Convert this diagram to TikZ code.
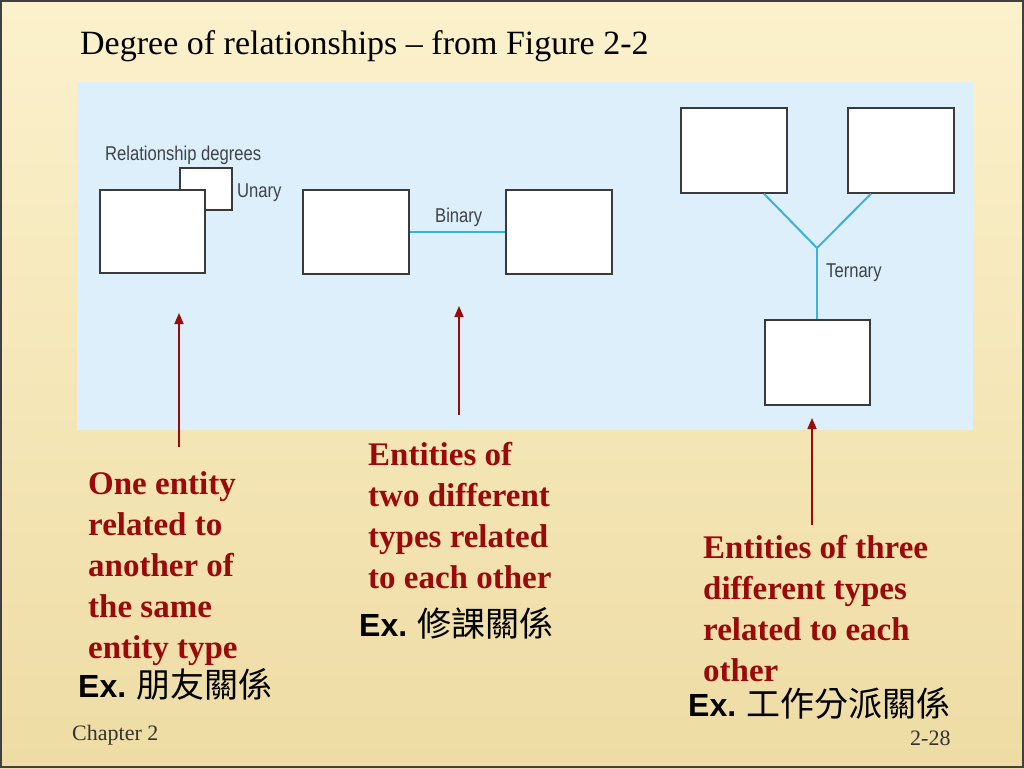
\documentclass[tikz,border=0pt]{standalone}
\usepackage{fontspec}
\setmainfont{Liberation Serif}
\newfontfamily\sansf{Liberation Sans}
\newfontfamily\narrowf[FakeStretch=0.83]{Liberation Sans}
\newfontfamily\cjk{Noto Sans CJK TC}
\usetikzlibrary{arrows.meta}
\definecolor{bgtop}{HTML}{FBF1CC}
\definecolor{bgbot}{HTML}{EEDCA4}
\definecolor{panel}{HTML}{DCEFFB}
\definecolor{cyanline}{HTML}{3AB2DC}
\definecolor{darkred}{HTML}{9A0A0A}
\definecolor{labelgray}{HTML}{3F4348}
\definecolor{boxedge}{HTML}{3A3A3A}
\tikzset{
  entbox/.style={draw=boxedge, line width=1.5pt, fill=white, inner sep=0pt},
  relline/.style={draw=cyanline, line width=2pt},
  diaglabel/.style={anchor=base west, inner sep=0pt, text=labelgray, font=\narrowf\fontsize{20}{22}\selectfont},
  redtext/.style={anchor=base west, inner sep=0pt, align=left, text=darkred, font=\bfseries\fontsize{33}{41}\selectfont},
  extext/.style={anchor=base west, inner sep=0pt, text=black, font=\fontsize{32}{36}\selectfont},
  pointer/.style={draw=darkred, line width=1.6pt, -{Triangle[width=9pt,length=11pt]}},
  footer/.style={anchor=base west, inner sep=0pt, text=black!80, font=\fontsize{22}{24}\selectfont}
}
\newcommand{\cjktext}[1]{{\cjk\fontsize{34}{36}\selectfont #1}}
\begin{document}
\begin{tikzpicture}[x=1pt,y=-1pt]
\useasboundingbox (0,0) rectangle (1024,768);
% background
\shade[top color=bgtop, bottom color=bgbot] (0,0) rectangle (1024,768);
\draw[line width=2.5pt, draw=black!75] (1,1) rectangle (1023,767);
% title
\node[anchor=base west, inner sep=0pt, font=\fontsize{34}{38}\selectfont] (title) at (80,55) {Degree of relationships -- from Figure 2-2};
% panel
\fill[panel] (77,82) rectangle (973,430);
\node[diaglabel] (rdeg) at (105,160) {Relationship degrees};
% unary
\node[entbox, minimum width=52pt, minimum height=42pt] (us) at (206,189) {};
\node[entbox, minimum width=105pt, minimum height=83pt] (ub) at (152.5,231.5) {};
\node[diaglabel] (unary) at (237,197) {Unary};
% binary
\node[entbox, minimum width=106pt, minimum height=84pt] (bl) at (356,232) {};
\node[entbox, minimum width=106pt, minimum height=84pt] (br) at (559,232) {};
\draw[relline] (bl.east) -- (br.west);
\node[diaglabel] (binary) at (435,222) {Binary};
% ternary
\node[entbox, minimum width=106pt, minimum height=85pt] (tl) at (734,150.5) {};
\node[entbox, minimum width=106pt, minimum height=85pt] (tr) at (901,150.5) {};
\node[entbox, minimum width=105pt, minimum height=85pt] (tb) at (817.5,362.5) {};
\coordinate (j) at (817,248);
\draw[relline] ([xshift=30pt]tl.south) -- (j) -- ([xshift=-30pt]tr.south);
\draw[relline] (j) -- (j |- tb.north);
\node[diaglabel] (ternary) at (826,277) {Ternary};
% pointers
\coordinate (p1s) at (179,447); \coordinate (p1e) at (179,313);
\coordinate (p2s) at (459,415); \coordinate (p2e) at (459,306);
\coordinate (p3s) at (812,525); \coordinate (p3e) at (812,418);
\draw[pointer] (p1s) -- (p1e);
\draw[pointer] (p2s) -- (p2e);
\draw[pointer] (p3s) -- (p3e);
% explanations (anchor = baseline of last line)
\node[redtext] (t1) at (88,658) {One entity\\related to\\another of\\the same\\entity type};
\node[redtext] (t2) at (368,588) {Entities of\\two different\\types related\\to each other};
\node[redtext] (t3) at (703,681) {Entities of three\\different types\\related to each\\other};
\node[extext] (e1) at (78,697) {{\sansf\bfseries Ex.} \cjktext{朋友關係}};
\node[extext] (e2) at (359,636) {{\sansf\bfseries Ex.} \cjktext{修課關係}};
\node[extext] (e3) at (688,716) {{\sansf\bfseries Ex.} \cjktext{工作分派關係}};
% footer
\node[footer] (chap) at (72,740) {Chapter 2};
\node[footer] (page) at (910,745) {2-28};
\end{tikzpicture}
\end{document}
